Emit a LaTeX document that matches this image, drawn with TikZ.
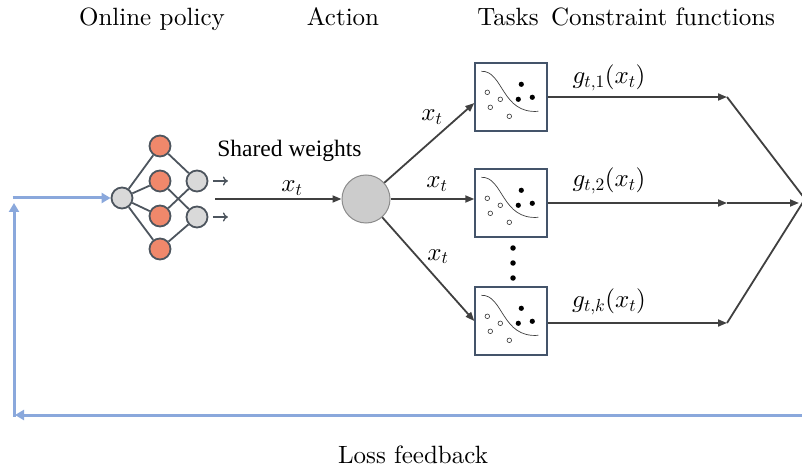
\documentclass[tikz,border=0pt]{standalone}
\usepackage{fontspec}
\setmainfont{lmroman10-regular.otf}
\newfontfamily\timesf{Liberation Serif}
\DeclareFontShape{OML}{cmm}{m}{it}{<-> cmmi10}{\skewchar\font'177}
\DeclareFontShape{OT1}{cmr}{m}{n}{<-> cmr10}{}
\usetikzlibrary{arrows.meta,calc}
\definecolor{dk}{HTML}{404040}
\definecolor{nnb}{HTML}{4D555E}
\definecolor{nnor}{HTML}{F0886B}
\definecolor{nngr}{HTML}{D9D9D9}
\definecolor{actf}{HTML}{CCCCCC}
\definecolor{actb}{HTML}{8C8C8C}
\definecolor{boxc}{HTML}{44546A}
\definecolor{fbblue}{HTML}{8AA8DC}
\begin{document}
\begin{tikzpicture}[x=1pt,y=-1pt,
  nnline/.style={draw=nnb, line width=1.8pt},
  nnh/.style={circle, draw=nnb, line width=1.8pt, fill=nnor, minimum size=21pt, inner sep=0pt},
  nng/.style={circle, draw=nnb, line width=1.8pt, fill=nngr, minimum size=21pt, inner sep=0pt},
  small/.style={draw=nnb, line width=1.3pt, -{To[length=5pt,width=9pt]}},
  conn/.style={draw=dk, line width=1.8pt},
  arr/.style={conn, -{Triangle[length=9pt,width=7pt]}},
  fb/.style={draw=fbblue, line width=3pt},
  fbarr/.style={fb, -{Triangle[length=9pt,width=10pt]}},
  title/.style={font=\fontsize{25}{30}\selectfont, anchor=base, inner sep=0pt},
  lab/.style={font=\fontsize{25}{30}\selectfont, inner sep=0pt},
  taskbox/.style={draw=boxc, line width=1.4pt, minimum width=72pt, minimum height=68pt, inner sep=0pt, fill=white},
  dot/.style={circle, fill=black, minimum size=5.5pt, inner sep=0pt},
]
\useasboundingbox (0,0) rectangle (802,470);

% titles
\node[title] (t1) at (152,26) {Online policy};
\node[title] (t2) at (343,26) {Action};
\node[title] (t3) at (508,26) {Tasks};
\node[title] (t4) at (663,26) {Constraint functions};
\node[title] (t5) at (413,463) {Loss feedback};

% neural network
\node[nng] (in) at (122,198) {};
\node[nnh] (h1) at (160,146) {};
\node[nnh] (h2) at (160,181) {};
\node[nnh] (h3) at (160,216) {};
\node[nnh] (h4) at (160,249) {};
\node[nng] (o1) at (197,181) {};
\node[nng] (o2) at (197,217) {};
\foreach \h in {h1,h2,h3,h4} \draw[nnline] (in) -- (\h);
\draw[nnline] (h1) -- (o1);
\draw[nnline] (h2) -- (o2);
\draw[nnline] (h3) -- (o1);
\draw[nnline] (h4) -- (o2);
\draw[small] ($(o1.east)+(4.5,0)$) -- ($(o1.east)+(19.5,0)$);
\draw[small] ($(o2.east)+(4.5,0)$) -- ($(o2.east)+(19.5,0)$);

% action
\node[circle, draw=actb, fill=actf, line width=1pt, minimum size=48pt, inner sep=0pt] (act) at (366,199) {};
\coordinate (sw) at (215,199);
\draw[arr] (sw) -- (act);
\node[font=\timesf\fontsize{23.5}{28}\selectfont, anchor=base, inner sep=0pt] (sh) at (289.5,157) {Shared weights};
\node[lab, anchor=base] (xa) at (292,192) {$x_t$};

% task boxes
\node[taskbox] (b1) at (511,97) {};
\node[taskbox] (b2) at (511,203) {};
\node[taskbox] (b3) at (511,321) {};
\foreach \b in {b1,b2,b3}{
  \begin{scope}[shift={(\b.north west)}]
    \draw[black!75, line width=0.7pt] (7,9) .. controls (29,8) and (27,52) .. (64,49);
    \foreach \p in {(13,30),(26,37),(16,45),(35,54)}
      \draw[black!80, line width=0.6pt, fill=white] \p circle (2.3);
    \foreach \p in {(47,22),(44,37),(58,35)}
      \fill[black] \p circle (2.6);
  \end{scope}
}
\node[dot] (d1) at (513,248) {};
\node[dot] (d2) at (513,263) {};
\node[dot] (d3) at (513,278) {};

\draw[arr] (act) -- ($(b1.west)+(0,6)$);
\draw[arr] (act) -- (b2.west |- act);
\draw[arr] (act) -- (b3.west);
\node[lab, anchor=base] (x1) at (432,121) {$x_t$};
\node[lab, anchor=base] (x2) at (437,188) {$x_t$};
\node[lab, anchor=base] (x3) at (438,260) {$x_t$};

% constraint functions
\coordinate (c1) at (727,97);
\coordinate (c2) at (727,203);
\coordinate (c3) at (727,323);
\coordinate (cv) at (805,199);
\coordinate (c2e) at (799,203);
\draw[arr] (b1.east) -- (c1);
\draw[arr] (b2.east) -- (c2);
\draw[arr] (b3.east |- c3) -- (c3);
\draw[conn] (c1) -- (cv);
\draw[conn] (c3) -- (cv);
\draw[arr] (c2) -- (c2e);
\node[lab] (g1) at (609,78) {$g_{t,1}(x_t)$};
\node[lab] (g2) at (609,181) {$g_{t,2}(x_t)$};
\node[lab] (g3) at (609,302) {$g_{t,k}(x_t)$};

% feedback
\coordinate (fbr) at (806,415);
\coordinate (fbl) at (15,415);
\coordinate (fbb) at (14,416.5);
\coordinate (fbt) at (14,203);
\coordinate (fbs) at (12.5,198);
\draw[fbarr] (fbr) -- (fbl);
\draw[fbarr] (fbb) -- (fbt);
\draw[fbarr] (fbs) -- (in.west);
\end{tikzpicture}
\end{document}
